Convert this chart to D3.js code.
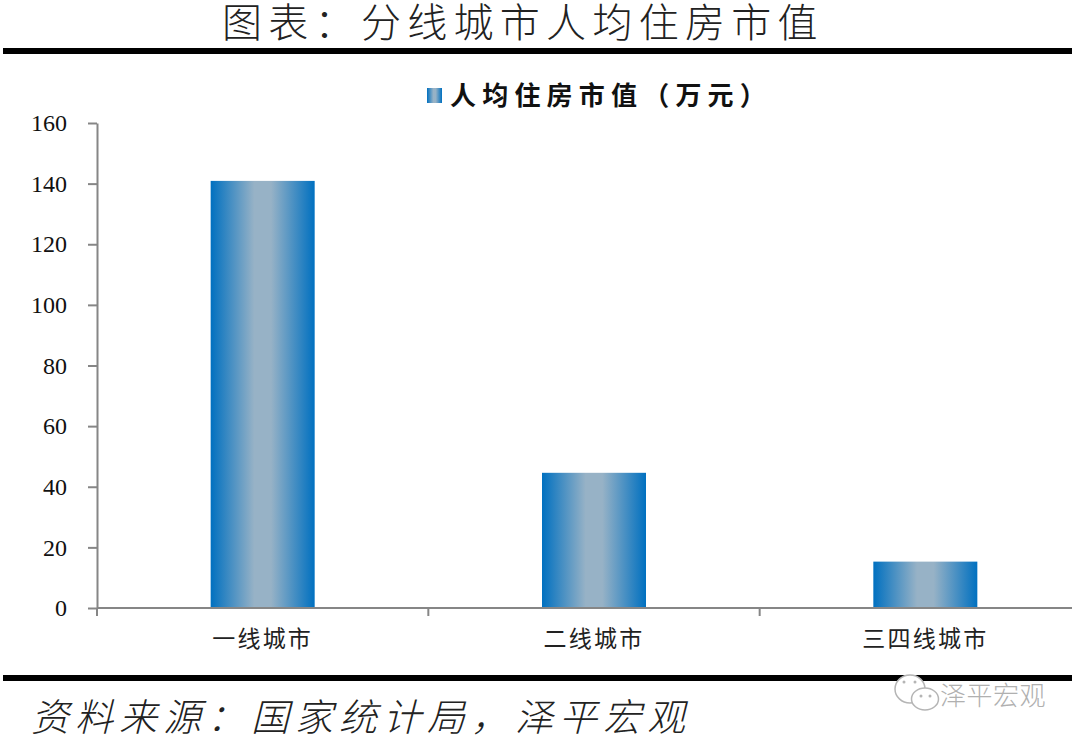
<!DOCTYPE html>
<html lang="zh-CN">
  <head>
    <meta charset="UTF-8" />
    <title>分线城市人均住房市值</title>
    <style>
      html, body { margin: 0; padding: 0; background: #fff; }
      svg { display: block; }
      .cjk { font-family: "Noto Sans CJK SC", sans-serif; }
      .axis path, .axis line { stroke: #868686; stroke-width: 2; }
      .y text { font-family: "Liberation Serif", serif; font-size: 24px; fill: #111; }
      .x text { font-family: "Noto Sans CJK SC", sans-serif; font-size: 23px; letter-spacing: 2.2px; fill: #222; }
    </style>
  </head>
  <body>
    <svg width="1080" height="742" id="svg"></svg>
    <script src="https://cdn.jsdelivr.net/npm/d3@7"></script>
    <script>
      const categories = ["一线城市", "二线城市", "三四线城市"];
      const values = [140.9, 44.6, 15.3];
      const yTicks = [0, 20, 40, 60, 80, 100, 120, 140, 160];
      const titleText = "图表：分线城市人均住房市值";
      const legendText = "人均住房市值（万元）";
      const sourceText = "资料来源：国家统计局，泽平宏观";
      const markText = "泽平宏观";

      const svg = d3.select("#svg");

      const x = d3.scaleBand().domain(categories).range([97, 1091]).paddingInner(0).paddingOuter(0);
      const y = d3.scaleLinear().domain([0, 160]).range([608, 123]);
      const barWidth = 104;

      const grad = svg.append("defs").append("linearGradient").attr("id", "barFill");
      grad.append("stop").attr("offset", "0%").attr("stop-color", "#0070c0");
      grad.append("stop").attr("offset", "42%").attr("stop-color", "#97b2c6");
      grad.append("stop").attr("offset", "58%").attr("stop-color", "#97b2c6");
      grad.append("stop").attr("offset", "100%").attr("stop-color", "#0070c0");

      // 标题和上下两条粗线
      svg.append("text").attr("class", "cjk")
        .attr("x", 222).attr("y", 37)
        .attr("font-size", 40).attr("font-weight", 300).attr("letter-spacing", 6.3).attr("fill", "#222")
        .text(titleText);
      svg.append("rect").attr("x", 3).attr("y", 48).attr("width", 1069).attr("height", 6).attr("fill", "#000");
      svg.append("rect").attr("x", 3).attr("y", 675).attr("width", 1069).attr("height", 6).attr("fill", "#000");

      // 图例
      svg.append("rect").attr("x", 427).attr("y", 88).attr("width", 15).attr("height", 15).attr("fill", "url(#barFill)");
      svg.append("text").attr("class", "cjk")
        .attr("x", 450).attr("y", 105)
        .attr("font-size", 26).attr("font-weight", 700).attr("letter-spacing", 6.2).attr("fill", "#111")
        .text(legendText);

      // 柱子
      svg.selectAll("rect.bar")
        .data(values)
        .join("rect")
        .attr("class", "bar")
        .attr("x", (d, i) => x(categories[i]) + x.bandwidth() / 2 - barWidth / 2)
        .attr("y", d => y(d))
        .attr("width", barWidth)
        .attr("height", d => y(0) - y(d))
        .attr("fill", "url(#barFill)");

      // 坐标轴
      svg.append("g").attr("class", "axis y")
        .attr("transform", "translate(97,0)")
        .call(d3.axisLeft(y).tickValues(yTicks).tickSize(9).tickSizeOuter(0).tickPadding(21))
        .call(g => g.selectAll("text").attr("dy", "0.32em"));

      const xAxis = d3.axisBottom(x).tickSize(0).tickSizeOuter(0).tickPadding(23);
      svg.append("g").attr("class", "axis x")
        .attr("transform", "translate(0,608)")
        .call(xAxis)
        .call(g => g.select(".domain").attr("d", "M97,0H1072"));

      // 分类之间的刻度
      svg.select(".axis.x").selectAll("line.sep")
        .data(categories)
        .join("line")
        .attr("class", "sep")
        .attr("x1", d => x(d)).attr("x2", d => x(d))
        .attr("y1", 0).attr("y2", 8);

      // 资料来源
      svg.append("text").attr("class", "cjk")
        .attr("x", 31).attr("y", 731)
        .attr("font-size", 38).attr("font-weight", 300).attr("font-style", "italic").attr("letter-spacing", 6).attr("fill", "#222")
        .text(sourceText);

      // 水印
      const mark = svg.append("g").attr("fill", "#fff").attr("stroke", "#b5b5b5").attr("stroke-width", 1.5);
      mark.append("ellipse").attr("cx", 910).attr("cy", 689).attr("rx", 15).attr("ry", 14);
      mark.append("ellipse").attr("cx", 925).attr("cy", 699).attr("rx", 13.5).attr("ry", 11);
      const eyes = svg.append("g").attr("fill", "#b5b5b5");
      [[904, 682], [915, 682], [921, 696], [930, 696]].forEach(p => {
        eyes.append("circle").attr("cx", p[0]).attr("cy", p[1]).attr("r", 1.5);
      });
      svg.append("text").attr("class", "cjk")
        .attr("x", 940).attr("y", 705)
        .attr("font-size", 26).attr("font-weight", 300).attr("letter-spacing", 0.5).attr("fill", "#b0b0b0")
        .text(markText);
    </script>
  </body>
</html>
